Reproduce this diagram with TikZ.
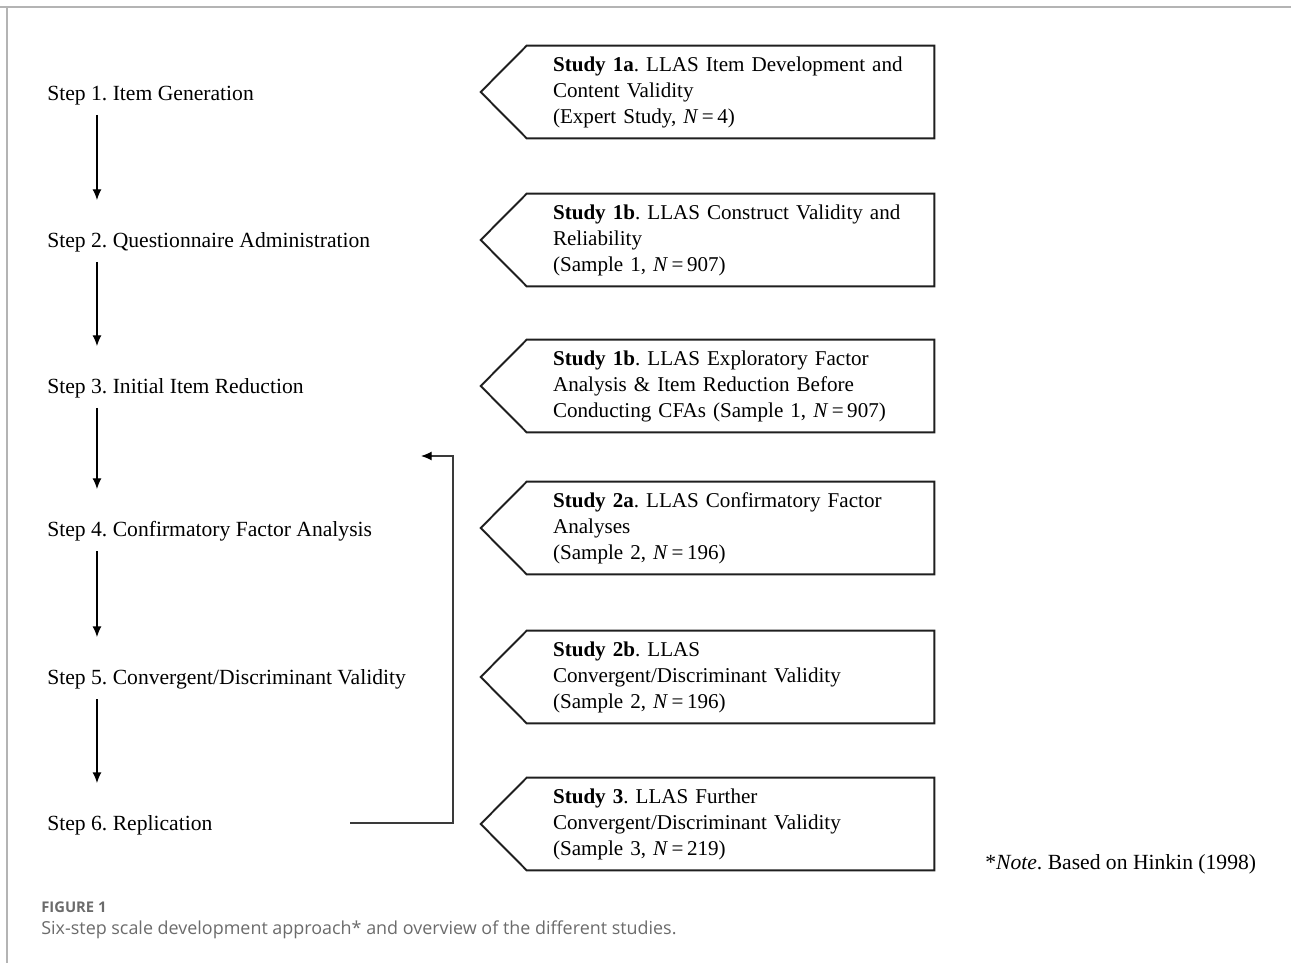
\documentclass[tikz,border=0pt]{standalone}
\usepackage{fontspec}
\setmainfont{Liberation Serif}
\newfontfamily\capfont{Open Sans}
\usepackage{tikz}
\usetikzlibrary{arrows.meta,calc}
\frenchspacing
\definecolor{BoxLine}{HTML}{1F1F1F}
\definecolor{FrameGray}{HTML}{B4B4B4}
\definecolor{CaptionGray}{HTML}{6B6B6B}
\definecolor{LoopGray}{HTML}{3A3A3A}
\tikzset{
  stepnode/.style={
    anchor=west,inner sep=0pt,
    font=\fontsize{12.3}{14.8}\selectfont
  },
  studynode/.style={
    minimum width=8.14cm,minimum height=1.84cm,
    text width=7.1cm,inner xsep=0.52cm,inner ysep=0pt,
    align=left,font=\fontsize{12}{14.8}\selectfont
  },
  studyborder/.style={draw=BoxLine,line width=1.1pt,line join=miter},
  steparrow/.style={draw=black,line width=0.6pt,-{Latex[length=6pt,width=5pt]}},
}

\begin{document}
\begin{tikzpicture}[x=0.02cm,y=-0.02cm]
  \useasboundingbox (0,0) rectangle (1291,963);
  % frame of the panel
  \draw[draw=FrameGray,line width=1.2pt] (0,7) -- (1291,7);
  \draw[draw=FrameGray,line width=0.8pt] (7,7) -- (7,963);
  % steps
  \node[stepnode] (step1) at (47,95.5) {Step 1. Item Generation};
  \node[stepnode] (step2) at (47,242.5) {Step 2. Questionnaire Administration};
  \node[stepnode] (step3) at (47,388.5) {Step 3. Initial Item Reduction};
  \node[stepnode] (step4) at (47,531.5) {Step 4. Confirmatory Factor Analysis};
  \node[stepnode] (step5) at (47,679.5) {Step 5. Convergent/Discriminant Validity};
  \node[stepnode] (step6) at (47,825.5) {Step 6. Replication};
  \draw[steparrow] ([xshift=1cm,yshift=-0.39cm]step1.west) -- ([xshift=1cm,yshift=0.85cm]step2.west);
  \draw[steparrow] ([xshift=1cm,yshift=-0.39cm]step2.west) -- ([xshift=1cm,yshift=0.85cm]step3.west);
  \draw[steparrow] ([xshift=1cm,yshift=-0.39cm]step3.west) -- ([xshift=1cm,yshift=0.85cm]step4.west);
  \draw[steparrow] ([xshift=1cm,yshift=-0.39cm]step4.west) -- ([xshift=1cm,yshift=0.85cm]step5.west);
  \draw[steparrow] ([xshift=1cm,yshift=-0.39cm]step5.west) -- ([xshift=1cm,yshift=0.85cm]step6.west);
  % replication loop back
  \coordinate (loopstart) at (350,823);
  \coordinate (loopend) at (421,456);
  \draw[draw=LoopGray,line width=0.6pt,-{Latex[length=6pt,width=5pt,color=black]}] (loopstart) -- ++(103,0) |- (loopend);
  % studies
  \node[studynode] (s1a) at (730.5,92) {\textbf{Study 1a}. LLAS Item Development and\\Content Validity\\(Expert Study, \textit{N}\,=\,4)};
  \node[studynode] (s1b) at (730.5,240) {\textbf{Study 1b}. LLAS Construct Validity and\\Reliability\\(Sample 1, \textit{N}\,=\,907)};
  \node[studynode] (s1c) at (730.5,386) {\textbf{Study 1b}. LLAS Exploratory Factor\\Analysis \& Item Reduction Before\\Conducting CFAs (Sample 1, \textit{N}\,=\,907)};
  \node[studynode] (s2a) at (730.5,528) {\textbf{Study 2a}. LLAS Confirmatory Factor\\Analyses\\(Sample 2, \textit{N}\,=\,196)};
  \node[studynode] (s2b) at (730.5,677) {\textbf{Study 2b}. LLAS\\Convergent/Discriminant Validity\\(Sample 2, \textit{N}\,=\,196)};
  \node[studynode] (s3) at (730.5,824) {\textbf{Study 3}. LLAS Further\\Convergent/Discriminant Validity\\(Sample 3, \textit{N}\,=\,219)};
  \draw[studyborder] (s1a.north east) -- (s1a.north west) -- ([xshift=-0.92cm]s1a.west) -- (s1a.south west) -- (s1a.south east) -- cycle;
  \draw[studyborder] (s1b.north east) -- (s1b.north west) -- ([xshift=-0.92cm]s1b.west) -- (s1b.south west) -- (s1b.south east) -- cycle;
  \draw[studyborder] (s1c.north east) -- (s1c.north west) -- ([xshift=-0.92cm]s1c.west) -- (s1c.south west) -- (s1c.south east) -- cycle;
  \draw[studyborder] (s2a.north east) -- (s2a.north west) -- ([xshift=-0.92cm]s2a.west) -- (s2a.south west) -- (s2a.south east) -- cycle;
  \draw[studyborder] (s2b.north east) -- (s2b.north west) -- ([xshift=-0.92cm]s2b.west) -- (s2b.south west) -- (s2b.south east) -- cycle;
  \draw[studyborder] (s3.north east) -- (s3.north west) -- ([xshift=-0.92cm]s3.west) -- (s3.south west) -- (s3.south east) -- cycle;
  \node[stepnode] (note) at (985,864) {*\textit{Note}. Based on Hinkin (1998)};
  % caption
  \node[anchor=west,inner sep=0pt,text=CaptionGray,font=\capfont\bfseries\fontsize{8.4}{10}\selectfont] (figlabel) at (41,907) {FIGURE 1};
  \node[anchor=west,inner sep=0pt,text=CaptionGray,font=\capfont\fontsize{10.2}{12}\selectfont] (figcaption) at (41,930) {Six-step scale development approach* and overview of the different studies.};
\end{tikzpicture}
\end{document}
